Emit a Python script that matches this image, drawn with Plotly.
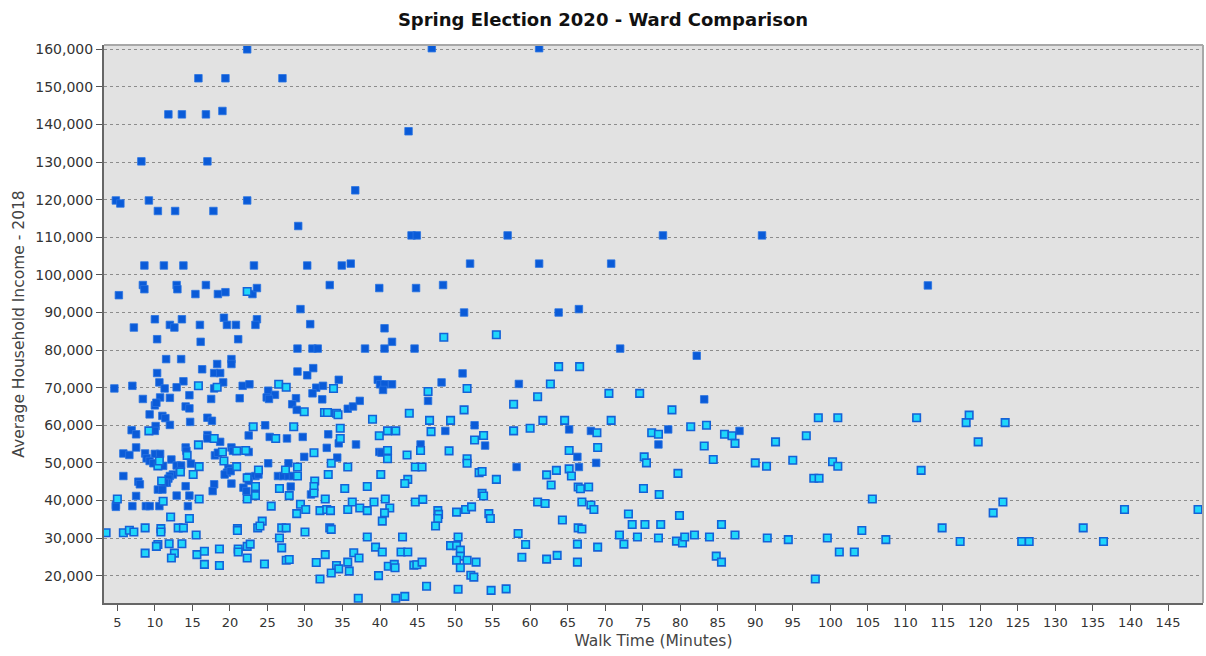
import plotly.graph_objects as go

# Wards shown in dark blue: walk time (minutes) and average household income (thousands)
dark_walk = [
    22.3, 15.8, 19.4, 27.0, 11.8, 13.6, 16.8, 19.0, 8.2, 17.0, 4.8, 5.4, 9.2, 22.3, 10.4, 12.7,
    17.8, 29.1, 8.6, 11.2, 13.8, 23.2, 8.4, 8.6, 12.9, 13.0, 16.8, 5.2, 15.4, 18.4, 19.4, 23.0,
    23.6, 29.4, 10.0, 7.2, 12.0, 12.6, 13.6, 16.0, 19.2, 19.6, 20.8, 23.6, 23.4,
    46.9, 43.8, 36.7, 44.2, 44.9, 30.3, 34.9, 36.1, 52.0, 33.3, 39.9, 44.8, 48.4, 51.2, 30.7, 40.6,
    61.2, 57.0, 77.7, 61.2, 70.8, 63.8, 66.5, 90.9, 113.0,
    10.3, 16.1, 21.1, 11.5, 13.5, 16.3, 18.3, 20.2, 20.2, 10.3, 17.9, 18.7, 10.6, 13.8, 19.1, 7.0,
    4.6, 11.3, 12.9, 21.7, 22.6, 17.9, 25.1, 26.0, 8.4, 10.7, 12.0, 14.6, 17.5, 21.3, 24.9, 25.2,
    28.8, 28.3, 28.9, 10.0, 10.2, 14.1, 14.6, 9.3, 11.0, 11.4, 12.0, 14.7, 10.1, 10.0, 17.0, 17.6,
    24.7, 6.9, 7.5, 22.5, 17.0, 17.0, 18.7, 25.3, 27.6, 7.5, 14.1, 14.2, 20.2, 20.4, 22.5, 5.8,
    6.6, 8.7, 8.9, 10.0, 10.7, 18.0, 18.4, 9.3, 9.8, 11.1, 12.2, 12.9, 13.5, 14.8, 19.8, 19.6,
    25.1, 27.8, 5.8, 12.4, 12.0, 13.3, 11.8, 11.6, 19.3, 20.1, 22.5, 23.4, 23.8, 26.4, 27.1, 27.8,
    28.4, 7.8, 8.0, 11.3, 22.5, 20.2, 28.1, 10.4, 11.0, 14.1, 17.9, 17.7, 21.8, 22.2, 7.5, 12.9,
    14.6, 4.8, 4.8, 7.0, 8.8, 9.3, 10.6, 14.4,
    41.6, 29.0, 31.0, 31.7, 38.0, 40.6, 44.6, 29.0, 30.3, 31.1, 34.5, 39.7, 40.0, 40.6, 41.6, 40.4,
    48.2, 51.0, 31.5, 32.4, 31.0, 32.3, 46.4, 35.7, 36.4, 37.3, 52.6, 48.7, 29.7, 33.1, 34.5, 36.8,
    45.4, 54.0, 32.9, 39.9, 40.2, 29.9, 34.3, 30.8,
    72.0, 82.2, 58.5, 83.2, 65.2, 68.1, 78.4, 87.9, 77.1, 66.3, 68.8, 58.2, 66.5,
]
dark_income_k = [
    160.0, 152.3, 152.3, 152.3, 142.7, 142.7, 142.7, 143.6, 130.2, 130.2, 119.8, 119.0, 119.8, 119.8, 117.0, 117.0,
    117.0, 113.0, 102.5, 102.5, 102.5, 102.5, 97.3, 96.2, 97.3, 96.2, 97.3, 94.6, 94.9, 94.9, 95.4, 94.9,
    96.5, 90.9, 88.2, 86.0, 86.7, 86.0, 88.2, 86.7, 88.6, 86.7, 86.7, 88.2, 86.7,
    160.3, 138.2, 122.5, 110.5, 110.5, 102.5, 102.5, 103.0, 103.0, 97.3, 96.5, 96.5, 97.3, 90.0, 86.9, 85.8,
    160.3, 110.5, 110.5, 103.0, 103.0, 90.0, 90.9, 110.5, 97.2,
    82.9, 82.2, 82.9, 77.6, 77.6, 74.9, 76.3, 77.6, 76.3, 73.9, 73.9, 73.9, 71.4, 71.7, 71.4, 70.5,
    69.8, 69.8, 70.1, 70.5, 70.9, 69.8, 69.2, 68.1, 67.0, 67.4, 67.3, 68.0, 67.0, 67.2, 67.4, 67.0,
    67.2, 65.6, 64.1, 65.3, 66.0, 65.0, 64.5, 62.9, 62.5, 61.9, 60.1, 60.9, 59.8, 58.5, 62.0, 61.2,
    60.0, 58.7, 57.6, 57.3, 57.4, 56.5, 55.6, 56.9, 56.5, 54.1, 54.1, 53.2, 54.1, 53.2, 52.9, 52.5,
    52.1, 52.5, 51.2, 52.4, 52.4, 52.0, 52.7, 50.5, 49.9, 49.2, 50.9, 49.3, 49.3, 49.8, 48.5, 47.4,
    49.9, 49.9, 46.5, 46.9, 46.5, 47.7, 45.8, 44.7, 46.9, 47.8, 46.3, 46.5, 46.9, 46.5, 46.5, 46.5,
    46.5, 45.0, 44.3, 44.7, 45.2, 44.5, 43.7, 42.9, 42.9, 43.8, 44.3, 42.5, 43.4, 42.5, 41.2, 41.3,
    41.3, 38.8, 38.3, 38.5, 38.5, 38.5, 38.5, 38.5,
    82.2, 80.4, 80.4, 80.4, 80.4, 80.4, 80.4, 74.3, 73.3, 75.2, 72.1, 72.1, 70.9, 70.9, 70.9, 69.4,
    71.4, 73.8, 70.0, 70.5, 68.5, 66.9, 66.5, 64.4, 65.0, 66.5, 60.0, 58.5, 56.9, 57.6, 55.2, 54.9,
    54.9, 54.6, 54.0, 52.9, 52.7, 51.6, 51.4, 41.6,
    80.4, 78.5, 71.0, 66.9, 58.9, 58.5, 58.9, 58.5, 54.9, 51.6, 50.0, 48.9, 48.9,
]

# Wards shown in light cyan
light_walk = [
    22.3,
    15.8, 18.3, 26.5, 27.5, 9.2, 23.1, 28.5, 17.9, 26.1, 15.8, 20.9, 22.1, 19.0, 14.3, 19.2, 10.4,
    10.6, 15.9, 20.9, 27.4, 23.8, 15.1, 13.4, 10.9, 22.3, 23.4, 26.6, 11.1, 15.9, 22.3, 23.4, 27.9,
    5.0, 25.5, 28.9, 12.1, 14.6, 24.3, 23.7, 24.0, 8.7, 10.8, 10.8, 13.1, 13.8, 21.0, 21.0, 26.9,
    27.5, 3.5, 5.8, 6.6, 7.2, 15.5, 26.6, 10.4, 10.2, 11.9, 13.6, 18.6, 21.1, 22.3, 22.7, 26.9,
    8.7, 12.6, 12.2, 15.6, 16.6, 21.1, 22.3, 27.5, 27.9, 16.6, 18.6, 24.6,
    48.5, 55.5, 33.8, 46.4, 51.6, 29.9, 32.6, 33.0, 34.2, 34.4, 43.9, 51.2, 39.0, 46.6, 49.4, 34.7,
    34.7, 41.0, 42.1, 46.8, 39.9, 53.8, 52.6, 45.4, 31.2, 41.0, 41.0, 43.6, 49.2, 33.5, 35.7, 44.7,
    45.6, 51.6, 51.6, 29.0, 29.0, 33.1, 40.1, 53.2, 53.6, 31.3, 31.2, 55.5, 43.7, 43.3, 38.3, 35.3,
    31.2, 53.6, 53.8, 32.7, 36.3, 39.2, 40.7, 44.7, 45.7, 29.4, 30.1, 32.0, 32.9, 33.4, 35.7, 37.3,
    38.3, 41.3, 40.6, 40.3, 47.7, 47.8, 47.7, 47.4, 50.2, 51.4, 52.2, 54.5, 54.7, 30.0, 33.3, 33.5,
    38.3, 43.0, 50.4, 39.4, 40.3, 42.8, 43.7, 49.4, 50.2, 50.7, 50.7, 36.5, 37.2, 31.5, 32.7, 35.7,
    35.9, 34.2, 34.5, 33.5, 41.1, 41.9, 42.0, 44.5, 44.9, 45.6, 50.2, 51.6, 52.8, 50.7, 52.1, 52.5,
    32.0, 39.8, 46.2, 50.4, 54.8, 37.1, 42.1, 43.3,
    63.8, 66.6, 62.7, 61.0, 70.5, 74.6, 57.8, 78.9, 61.7, 64.6, 70.8, 57.8, 60.0, 68.9, 76.2, 77.1,
    81.4, 83.5, 85.9, 86.9, 87.3, 83.2, 69.0, 65.2, 75.2, 75.5, 84.4, 65.2, 65.5, 63.5, 62.2, 79.7,
    62.8, 66.4, 66.7, 67.8, 75.1, 77.2, 61.0, 62.0, 66.9, 68.1, 68.5, 73.1, 79.9, 64.3, 73.6, 75.3,
    77.4, 85.5, 66.4, 66.9, 58.4, 71.9, 74.3, 77.1, 79.5, 80.3, 80.6, 81.9, 83.9, 87.3, 59.4, 66.3,
    69.0, 72.5, 58.9, 62.2, 63.6, 66.3, 84.8, 85.5, 56.8,
    98.4, 101.0, 111.5, 118.5, 118.1, 123.3, 96.8, 92.7, 119.7, 90.0, 91.5, 95.0, 100.3, 101.0, 97.8, 98.5,
    112.1, 105.6, 123.0, 121.7, 139.2, 149.0, 104.2, 114.9, 133.7, 91.6, 94.4, 99.6, 107.4, 117.3, 125.5, 126.5,
    136.4, 101.2, 103.2, 98.0,
]
light_income_k = [
    95.6,
    70.5, 70.1, 70.9, 70.1, 58.5, 59.6, 59.6, 56.5, 56.5, 54.8, 53.2, 53.3, 52.9, 52.0, 50.5, 49.2,
    50.5, 49.0, 49.0, 48.1, 48.1, 46.9, 47.6, 45.2, 46.0, 43.7, 43.2, 39.8, 40.4, 40.4, 41.3, 41.3,
    40.4, 38.5, 36.5, 35.6, 35.2, 34.5, 32.7, 33.2, 32.7, 32.5, 31.6, 32.7, 32.7, 32.5, 32.0, 32.7,
    32.7, 31.4, 31.4, 32.1, 31.6, 30.8, 30.0, 28.3, 27.8, 28.5, 28.5, 27.1, 27.1, 27.8, 28.4, 27.4,
    26.0, 26.0, 24.7, 25.6, 26.5, 26.3, 24.7, 24.1, 24.3, 23.0, 22.7, 23.1,
    83.4, 84.1, 69.8, 69.0, 69.8, 63.6, 63.4, 63.4, 63.2, 62.8, 63.2, 64.1, 61.6, 61.3, 61.3, 59.2,
    56.5, 58.5, 58.5, 58.3, 57.2, 57.3, 56.1, 53.3, 52.7, 53.3, 51.1, 52.1, 53.2, 49.9, 48.9, 48.9,
    48.9, 51.1, 49.9, 48.9, 46.5, 46.9, 46.9, 47.4, 47.7, 45.2, 43.7, 45.6, 45.6, 44.5, 43.7, 43.2,
    42.0, 41.9, 41.2, 40.4, 39.6, 39.6, 40.4, 39.6, 40.3, 39.0, 37.6, 37.3, 37.6, 37.3, 37.6, 38.0,
    37.3, 38.0, 36.7, 34.5, 37.3, 36.3, 35.2, 33.2, 36.9, 37.6, 38.3, 36.5, 35.2, 31.6, 32.7, 32.3,
    30.3, 30.3, 30.3, 27.6, 26.3, 26.3, 26.3, 28.0, 28.0, 26.8, 25.2, 26.1, 24.7, 23.5, 25.6, 23.6,
    21.2, 22.7, 21.8, 20.7, 22.5, 23.0, 22.1, 22.8, 22.9, 23.6, 24.1, 24.1, 23.6, 22.1, 20.1, 19.6,
    19.1, 20.0, 17.2, 16.4, 16.1, 14.0, 14.0, 14.5,
    75.6, 75.6, 71.0, 67.6, 68.5, 68.5, 65.6, 64.1, 61.3, 61.3, 61.3, 58.5, 59.2, 58.0, 58.0, 57.6,
    59.6, 60.0, 57.6, 57.2, 55.2, 54.5, 54.1, 53.3, 51.6, 50.0, 50.9, 48.4, 46.5, 48.0, 46.8, 47.2,
    44.1, 43.6, 43.1, 43.6, 43.2, 41.6, 39.6, 39.2, 39.6, 38.8, 37.6, 36.4, 36.0, 34.8, 33.6, 33.6,
    33.6, 33.6, 32.7, 32.4, 31.2, 30.8, 30.3, 30.0, 29.2, 28.7, 30.3, 30.8, 30.3, 30.8, 28.3, 28.4,
    27.6, 28.4, 24.9, 24.4, 25.4, 23.6, 25.2, 23.6, 16.5,
    62.0, 62.0, 62.0, 62.7, 60.7, 60.7, 57.2, 55.6, 55.6, 50.0, 49.1, 50.7, 50.3, 49.1, 45.9, 45.9,
    48.0, 40.4, 39.6, 36.7, 37.6, 37.6, 32.0, 32.7, 32.7, 30.0, 29.6, 30.0, 29.6, 29.1, 29.1, 29.1,
    29.1, 26.3, 26.3, 19.1,
]

x_ticks = list(range(5, 150, 5))
y_ticks = list(range(20000, 160001, 10000))

fig = go.Figure()

fig.add_trace(go.Scatter(
    x=dark_walk,
    y=[v * 1000 for v in dark_income_k],
    mode="markers",
    name="Higher income",
    marker=dict(symbol="square", size=7.5, color="#0a5bd8",
                line=dict(color="#2a74e2", width=0.8)),
))
fig.add_trace(go.Scatter(
    x=light_walk,
    y=[v * 1000 for v in light_income_k],
    mode="markers",
    name="Lower income",
    marker=dict(symbol="square", size=7.5, color="#1fd6fa",
                line=dict(color="#1462d8", width=1.6)),
))

fig.update_layout(
    width=1206,
    height=656,
    margin=dict(l=104, r=3, t=45, b=53),
    paper_bgcolor="white",
    plot_bgcolor="#e2e2e2",
    showlegend=False,
    font=dict(family="DejaVu Sans", color="#222222"),
    title=dict(
        text="<b>Spring Election 2020 - Ward Comparison</b>",
        x=0.5, xanchor="center", xref="container",
        y=1 - 20 / 656, yanchor="middle",
        font=dict(family="DejaVu Sans", size=18, color="#111111"),
    ),
    xaxis=dict(
        range=[3.22, 149.66],
        tickmode="array",
        tickvals=x_ticks,
        ticks="outside",
        ticklen=6,
        tickcolor="#555555",
        tickfont=dict(size=13, color="#333333"),
        showgrid=False,
        zeroline=False,
        showline=True,
        linecolor="#666666",
        linewidth=2,
        title=dict(text="Walk Time (Minutes)", font=dict(size=15.5, color="#444444"), standoff=7),
    ),
    yaxis=dict(
        range=[12730, 161150],
        tickmode="array",
        tickvals=y_ticks,
        tickformat=",d",
        ticks="outside",
        ticklen=6,
        tickcolor="#555555",
        tickfont=dict(size=14, color="#333333"),
        showgrid=True,
        gridcolor="#8c8c8c",
        gridwidth=1,
        griddash="dot",
        zeroline=False,
        showline=True,
        linecolor="#666666",
        linewidth=2,
        title=dict(text="Average Household Income - 2018", font=dict(size=15.5, color="#444444"), standoff=7),
    ),
    shapes=[
        dict(type="line", xref="paper", yref="paper", x0=0, x1=1, y0=1, y1=1,
             line=dict(color="#a8a8a8", width=2)),
        dict(type="line", xref="paper", yref="paper", x0=1, x1=1, y0=0, y1=1,
             line=dict(color="#a8a8a8", width=2)),
    ],
)

fig.write_html("out.html")
